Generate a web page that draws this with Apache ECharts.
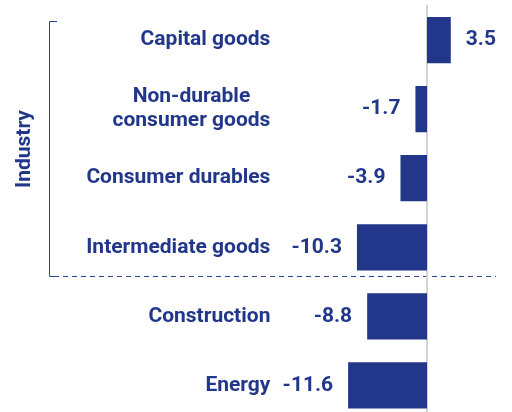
<!DOCTYPE html>
<html>
<head>
<meta charset="utf-8">
<script src="https://cdn.jsdelivr.net/npm/echarts@6/dist/echarts.min.js"></script>
<style>
  html, body { margin: 0; padding: 0; background: #fff; overflow: hidden; }
  /* the last bar runs off the bottom of the picture, so the canvas is a bit taller */
  #chart { width: 512px; height: 420px; }
</style>
</head>
<body>
<div id="chart"></div>
<script>
// categories top to bottom
const categories = [
  "Capital goods",
  "Non-durable\nconsumer goods",
  "Consumer durables",
  "Intermediate goods",
  "Construction",
  "Energy"
];
const values = [3.5, -1.7, -3.9, -10.3, -8.8, -11.6];
const groupLabel = "Industry";

const navy = "#22378a";
const font = "Roboto, 'Noto Sans', sans-serif";

const chart = echarts.init(document.getElementById("chart"));

chart.setOption({
  backgroundColor: "#fff",
  animation: false,
  grid: {
    left: 345.4,
    right: 57.8,
    top: 5.5,
    bottom: 0
  },
  xAxis: {
    type: "value",
    min: -12,
    max: 4,
    show: false
  },
  yAxis: {
    type: "category",
    data: categories,
    inverse: true,
    axisLine: {
      show: true,
      onZero: true,
      lineStyle: { color: "#d4d4d4", width: 2 }
    },
    axisTick: { show: false },
    axisLabel: {
      // labels are placed from the grid's left edge, not from the zero line
      margin: 75,
      formatter: (v) => v.split("\n").map((s) => "{c|" + s + "}").join("\n"),
      rich: {
        c: {
          align: "center",
          color: navy,
          fontFamily: font,
          fontWeight: "bold",
          fontSize: 21,
          lineHeight: 24
        }
      }
    }
  },
  series: [
    {
      type: "bar",
      barCategoryGap: "33%",
      itemStyle: { color: navy },
      label: {
        show: true,
        distance: 15,
        color: navy,
        fontFamily: font,
        fontWeight: "bold",
        fontSize: 21,
        formatter: (p) => p.value.toFixed(1)
      },
      data: values.map((v) => ({
        value: v,
        label: { position: v < 0 ? "left" : "right" }
      }))
    }
  ],
  graphic: [
    {
      type: "text",
      x: 25,
      y: 149,
      rotation: Math.PI / 2,
      style: {
        text: groupLabel,
        fill: navy,
        font: "bold 21px " + font,
        textAlign: "center",
        textVerticalAlign: "middle"
      }
    },
    {
      type: "polyline",
      shape: { points: [[57, 21.5], [49.5, 21.5], [49.5, 276.5], [54, 276.5]] },
      style: { stroke: "#2e4597", lineWidth: 1, fill: null }
    },
    {
      type: "line",
      shape: { x1: 54, y1: 276.5, x2: 496, y2: 276.5 },
      style: { stroke: "#2e4597", lineWidth: 1, lineDash: [5, 4] }
    }
  ]
});
</script>
</body>
</html>
